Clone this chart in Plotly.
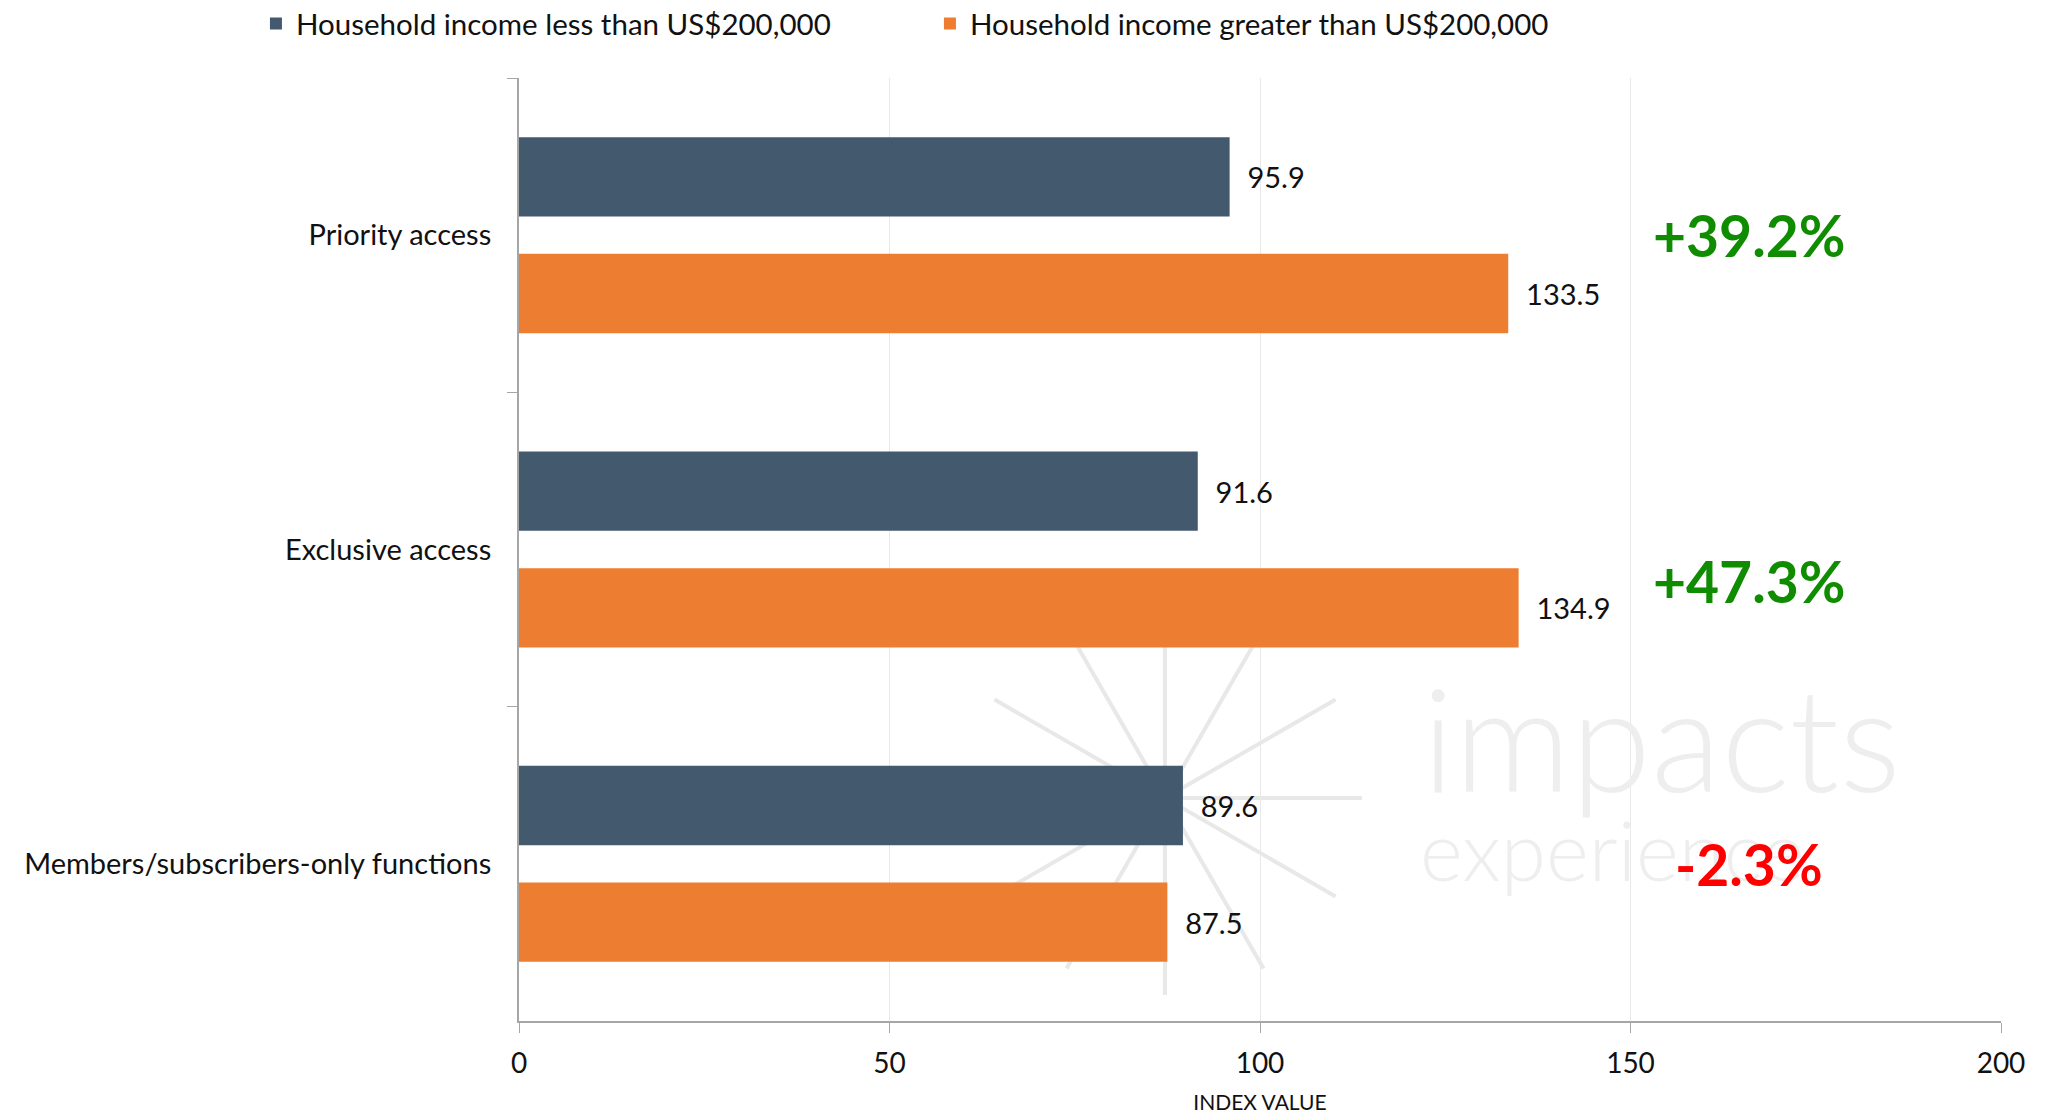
import math
import plotly.graph_objects as go

# Benefit categories and index values per household-income group
categories = ["Priority access", "Exclusive access", "Members/subscribers-only functions"]
series_names = ["Household income less than US$200,000",
                "Household income greater than US$200,000"]
under_200k = [95.9, 91.6, 89.6]
over_200k = [133.5, 134.9, 87.5]
change_labels = ["+39.2%", "+47.3%", "-2.3%"]
x_ticks = [0, 50, 100, 150, 200]

DARK = "#43596e"
ORANGE = "#ed7d31"
FONT = "Lato"
W, H = 2052, 1114
M_L, M_R, M_T, M_B = 519, 51, 78, 93
PW, PH = W - M_L - M_R, H - M_T - M_B

fig = go.Figure()
for name, vals, col in [(series_names[0], under_200k, DARK),
                        (series_names[1], over_200k, ORANGE)]:
    fig.add_trace(go.Bar(
        name=name, y=categories, x=vals, orientation="h",
        marker=dict(color=col, line=dict(width=0)),
        texttemplate="\u00a0\u00a0%{x:.1f}", textposition="outside",
        textfont=dict(family=FONT, size=29, color="#111111"),
        constraintext="none", cliponaxis=False,
    ))

# faint company watermark: starburst plus wordmark
cx, cy, r = 1165, 798, 197
shapes = []
for k in range(6):
    a = math.radians(30 * k)
    dx, dy = r * math.cos(a), r * math.sin(a)
    shapes.append(dict(
        type="line", xref="paper", yref="paper", layer="between",
        x0=(cx - dx - M_L) / PW, x1=(cx + dx - M_L) / PW,
        y0=(H - M_B - (cy - dy)) / PH, y1=(H - M_B - (cy + dy)) / PH,
        line=dict(color="#e8e8e8", width=4),
    ))
fig.add_annotation(x=(1420 - M_L) / PW, y=(H - M_B - 793) / PH, xref="paper", yref="paper",
                   xanchor="left", yanchor="bottom", yshift=-32, text="impacts", showarrow=False,
                   font=dict(family="Lato Light, Lato", size=145, color="#eeeeee"))
fig.add_annotation(x=(1418 - M_L) / PW, y=(H - M_B - 882) / PH, xref="paper", yref="paper",
                   xanchor="left", yanchor="bottom", yshift=-18, text="experience", showarrow=False,
                   font=dict(family="Lato Light, Lato", size=82, color="#eeeeee"))

# change annotations to the right of each category (drawn over the wordmark)
change_colors = ["#0f8c00", "#0f8c00", "#ff0000"]
change_shift = [0, -31, 0]
for cat, lab, col, sh in zip(categories, change_labels, change_colors, change_shift):
    fig.add_annotation(x=166, y=cat, xref="x", yref="y", text="<b>%s</b>" % lab,
                       showarrow=False, yshift=sh,
                       font=dict(family=FONT, size=57, color=col))

fig.update_layout(
    width=W, height=H,
    margin=dict(l=M_L, r=M_R, t=M_T, b=M_B, pad=0, autoexpand=False),
    paper_bgcolor="white", plot_bgcolor="white",
    barmode="group", bargap=0.258, bargroupgap=0.32,
    font=dict(family=FONT, color="#111111"),
    shapes=shapes,
    legend=dict(orientation="h", x=-0.1775, xanchor="left", y=1.085, yanchor="top",
                font=dict(family=FONT, size=29.5, color="#111111"),
                entrywidth=629, entrywidthmode="pixels", traceorder="normal",
                bgcolor="rgba(0,0,0,0)"),
    xaxis=dict(range=[0, 200], tickvals=x_ticks, showgrid=True, gridcolor="#e9e9e9", gridwidth=1,
               showline=True, linecolor="#a6a6a6", linewidth=2,
               ticks="outside", ticklen=10, tickcolor="#a6a6a6", tickwidth=1,
               tickfont=dict(family=FONT, size=28, color="#111111"), ticklabelstandoff=6,
               zeroline=False,
               title=dict(text="INDEX VALUE", font=dict(family=FONT, size=21, color="#111111"),
                          standoff=22)),
    yaxis=dict(range=[2.5, -0.5], showgrid=False, showline=True, linecolor="#a6a6a6", linewidth=2,
               ticks="outside", tickson="boundaries", ticklen=10, tickcolor="#a6a6a6", tickwidth=1,
               tickfont=dict(family=FONT, size=29, color="#111111"), ticklabelstandoff=20),
    showlegend=True,
)

fig.write_html("out.html")
